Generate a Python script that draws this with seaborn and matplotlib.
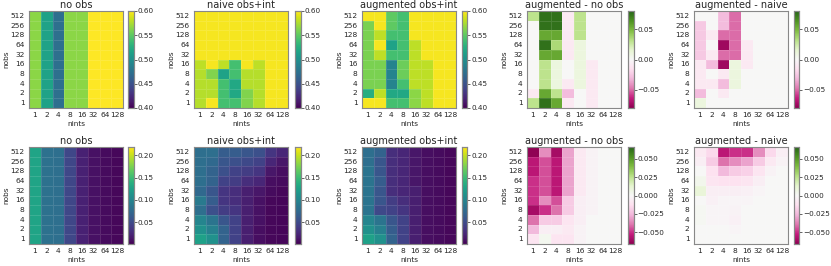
import numpy as np
import pandas as pd
import matplotlib
matplotlib.use("Agg")
import matplotlib.pyplot as plt
import seaborn as sns

sns.set_style("white")
plt.rcParams['font.family'] = ['DejaVu Sans']

# ==================================================
# DATOS
# ==================================================
nobs = [512, 256, 128, 64, 32, 16, 8, 4, 2, 1]
nints = [1, 2, 4, 8, 16, 32, 64, 128]

# fila superior
top_no_obs = [[0.565, 0.515, 0.472, 0.565, 0.565, 0.60, 0.60, 0.60]] * 10

top_naive = [
    [0.597, 0.597, 0.597, 0.597, 0.597, 0.597, 0.597, 0.597],
    [0.597, 0.597, 0.597, 0.597, 0.597, 0.597, 0.597, 0.597],
    [0.597, 0.597, 0.597, 0.597, 0.597, 0.597, 0.597, 0.597],
    [0.597, 0.597, 0.597, 0.597, 0.597, 0.597, 0.597, 0.597],
    [0.597, 0.597, 0.597, 0.597, 0.597, 0.597, 0.597, 0.597],
    [0.58, 0.597, 0.58, 0.54, 0.597, 0.58, 0.597, 0.597],
    [0.578, 0.562, 0.515, 0.54, 0.578, 0.578, 0.597, 0.597],
    [0.578, 0.578, 0.54, 0.52, 0.578, 0.578, 0.597, 0.597],
    [0.578, 0.578, 0.54, 0.52, 0.562, 0.578, 0.597, 0.597],
    [0.578, 0.597, 0.54, 0.54, 0.562, 0.578, 0.597, 0.597],
]

top_aug = [
    [0.597, 0.597, 0.55, 0.54, 0.597, 0.597, 0.597, 0.597],
    [0.56, 0.597, 0.55, 0.54, 0.597, 0.597, 0.597, 0.597],
    [0.56, 0.58, 0.54, 0.54, 0.597, 0.597, 0.597, 0.597],
    [0.56, 0.597, 0.515, 0.54, 0.58, 0.597, 0.597, 0.597],
    [0.56, 0.58, 0.54, 0.54, 0.58, 0.597, 0.597, 0.597],
    [0.56, 0.56, 0.49, 0.555, 0.58, 0.58, 0.597, 0.597],
    [0.56, 0.56, 0.49, 0.555, 0.58, 0.58, 0.597, 0.597],
    [0.56, 0.56, 0.49, 0.54, 0.58, 0.58, 0.597, 0.597],
    [0.525, 0.58, 0.52, 0.52, 0.565, 0.58, 0.597, 0.597],
    [0.597, 0.597, 0.54, 0.54, 0.565, 0.58, 0.597, 0.597],
]

top_aug_minus_noobs = [
    [0.03, 0.075, 0.075, -0.01, 0.03, 0.0, 0.0, 0.0],
    [0.0, 0.075, 0.075, -0.01, 0.03, 0.0, 0.0, 0.0],
    [0.0, 0.055, 0.055, -0.01, 0.03, 0.0, 0.0, 0.0],
    [0.0, 0.075, 0.035, -0.01, 0.01, 0.0, 0.0, 0.0],
    [0.0, 0.055, 0.055, -0.01, 0.01, 0.0, 0.0, 0.0],
    [0.0, 0.03, 0.01, 0.0, 0.01, -0.01, 0.0, 0.0],
    [0.0, 0.03, 0.01, 0.0, 0.01, -0.01, 0.0, 0.0],
    [0.0, 0.03, 0.01, -0.01, 0.01, -0.01, 0.0, 0.0],
    [-0.01, 0.055, 0.03, -0.03, 0.0, -0.01, 0.0, 0.0],
    [0.03, 0.075, 0.055, -0.01, 0.0, -0.01, 0.0, 0.0],
]

top_aug_minus_naive = [
    [0.0, 0.0, -0.03, -0.05, 0.0, 0.0, 0.0, 0.0],
    [-0.025, 0.0, -0.03, -0.05, 0.0, 0.0, 0.0, 0.0],
    [-0.025, -0.01, -0.05, -0.05, 0.0, 0.0, 0.0, 0.0],
    [-0.025, 0.0, -0.075, -0.05, -0.01, 0.0, 0.0, 0.0],
    [-0.025, -0.01, -0.05, -0.05, -0.01, 0.0, 0.0, 0.0],
    [-0.01, -0.03, -0.075, 0.01, -0.01, 0.0, 0.0, 0.0],
    [-0.01, 0.0, -0.01, 0.01, 0.0, 0.0, 0.0, 0.0],
    [-0.01, -0.01, -0.03, 0.01, 0.0, 0.0, 0.0, 0.0],
    [-0.03, 0.0, -0.01, 0.0, 0.0, 0.0, 0.0, 0.0],
    [0.01, 0.0, 0.0, 0.0, 0.0, 0.0, 0.0, 0.0],
]

# fila inferior
bot_no_obs = [[0.128, 0.082, 0.08, 0.048, 0.022, 0.012, 0.008, 0.006]] * 10

bot_naive = [
    [0.08, 0.08, 0.065, 0.065, 0.06, 0.055, 0.035, 0.025],
    [0.08, 0.075, 0.06, 0.055, 0.05, 0.045, 0.025, 0.015],
    [0.08, 0.07, 0.055, 0.045, 0.04, 0.035, 0.015, 0.01],
    [0.08, 0.07, 0.045, 0.04, 0.03, 0.025, 0.01, 0.008],
    [0.075, 0.06, 0.035, 0.03, 0.02, 0.015, 0.008, 0.006],
    [0.09, 0.065, 0.035, 0.03, 0.02, 0.012, 0.006, 0.005],
    [0.08, 0.055, 0.04, 0.035, 0.02, 0.012, 0.006, 0.005],
    [0.10, 0.085, 0.06, 0.045, 0.02, 0.012, 0.006, 0.005],
    [0.11, 0.095, 0.07, 0.045, 0.02, 0.01, 0.006, 0.005],
    [0.125, 0.11, 0.07, 0.045, 0.02, 0.01, 0.006, 0.005],
]

bot_aug = [
    [0.08, 0.07, 0.03, 0.025, 0.015, 0.01, 0.008, 0.006],
    [0.08, 0.06, 0.03, 0.025, 0.015, 0.01, 0.008, 0.006],
    [0.085, 0.06, 0.03, 0.025, 0.015, 0.01, 0.008, 0.006],
    [0.085, 0.065, 0.03, 0.025, 0.015, 0.01, 0.008, 0.006],
    [0.085, 0.06, 0.03, 0.025, 0.02, 0.01, 0.008, 0.006],
    [0.085, 0.06, 0.04, 0.03, 0.02, 0.01, 0.008, 0.006],
    [0.085, 0.05, 0.045, 0.035, 0.02, 0.01, 0.008, 0.006],
    [0.10, 0.085, 0.06, 0.045, 0.02, 0.01, 0.008, 0.006],
    [0.11, 0.095, 0.065, 0.045, 0.02, 0.01, 0.008, 0.006],
    [0.125, 0.11, 0.07, 0.045, 0.02, 0.01, 0.008, 0.006],
]

bot_aug_minus_noobs = [
    [-0.065, -0.035, -0.06, -0.03, -0.008, -0.003, 0.0, 0.0],
    [-0.055, -0.045, -0.055, -0.03, -0.008, -0.003, 0.0, 0.0],
    [-0.055, -0.045, -0.055, -0.03, -0.008, -0.003, 0.0, 0.0],
    [-0.05, -0.045, -0.055, -0.03, -0.008, -0.003, 0.0, 0.0],
    [-0.05, -0.045, -0.055, -0.03, -0.008, -0.003, 0.0, 0.0],
    [-0.05, -0.035, -0.045, -0.02, -0.005, -0.003, 0.0, 0.0],
    [-0.06, -0.05, -0.04, -0.02, -0.005, -0.003, 0.0, 0.0],
    [-0.04, -0.02, -0.02, -0.01, -0.005, 0.0, 0.0, 0.0],
    [-0.025, -0.005, -0.005, -0.008, -0.003, 0.0, 0.0, 0.0],
    [-0.01, 0.003, -0.01, -0.01, -0.003, 0.0, 0.0, 0.0],
]

bot_aug_minus_naive = [
    [-0.008, -0.015, -0.055, -0.05, -0.05, -0.035, -0.015, -0.005],
    [-0.005, -0.02, -0.04, -0.035, -0.03, -0.02, -0.008, -0.003],
    [0.0, -0.012, -0.025, -0.02, -0.018, -0.01, -0.003, 0.0],
    [0.004, -0.01, -0.012, -0.012, -0.01, -0.005, 0.0, 0.0],
    [0.01, -0.005, -0.005, -0.005, -0.004, -0.002, 0.0, 0.0],
    [0.0, -0.004, -0.002, -0.002, -0.002, 0.0, 0.0, 0.0],
    [0.002, -0.002, -0.002, -0.003, 0.0, 0.0, 0.0, 0.0],
    [0.002, -0.002, -0.002, -0.004, 0.0, 0.0, 0.0, 0.0],
    [0.0, 0.0, 0.0, -0.002, 0.0, 0.0, 0.0, 0.0],
    [0.0, 0.0, 0.0, 0.0, 0.0, 0.0, 0.0, 0.0],
]

titles = ["no obs", "naive obs+int", "augmented obs+int",
          "augmented - no obs", "augmented - naive"]

rows = [
    [top_no_obs, top_naive, top_aug, top_aug_minus_noobs, top_aug_minus_naive],
    [bot_no_obs, bot_naive, bot_aug, bot_aug_minus_noobs, bot_aug_minus_naive],
]
# límites de color por fila: (viridis), (diferencias), paso de ticks
limits = [((0.40, 0.60), 0.08, 0.05, 0.05), ((0.002, 0.218), 0.066, 0.05, 0.025)]

# ==================================================
# FIGURA
# ==================================================
W, H = 831, 266
fig = plt.figure(figsize=(W / 100, H / 100), dpi=100)

lefts = [29, 194, 362, 527, 694]
cb_lefts = [128, 295, 462, 628, 794]
tops = [11, 147]
hm_w, hm_h = 94, 97
cb_w = 5.5


def px_rect(x, y, w, h):
    return [x / W, 1 - (y + h) / H, w / W, h / H]


for r, panels in enumerate(rows):
    (vmin, vmax), dlim, vstep, dstep = limits[r]
    for c, data in enumerate(panels):
        ax = fig.add_axes(px_rect(lefts[c], tops[r], hm_w, hm_h))
        cax = fig.add_axes(px_rect(cb_lefts[c], tops[r], cb_w, hm_h))
        df = pd.DataFrame(data, index=nobs, columns=nints)
        if c < 3:
            kw = dict(cmap="viridis", vmin=vmin, vmax=vmax)
            step = vstep
        else:
            kw = dict(cmap="PiYG", vmin=-dlim, vmax=dlim)
            step = dstep
        sns.heatmap(df, ax=ax, cbar_ax=cax, linewidths=0.4,
                    linecolor=(1, 1, 1, 0.12),
                    xticklabels=nints, yticklabels=nobs, **kw)
        ax.set_title(titles[c], fontsize=7, pad=2)
        ax.set_xlabel("nints", fontsize=5.3, labelpad=1.5)
        ax.set_ylabel("nobs", fontsize=5.3, labelpad=0.5)
        ax.tick_params(axis="both", labelsize=5.4, length=2.2, width=0.5, pad=1)
        ax.tick_params(axis="y", labelrotation=0)
        ax.tick_params(axis="x", labelrotation=0)
        for sp in ax.spines.values():
            sp.set_visible(True)
            sp.set_color("#888888")
            sp.set_linewidth(0.8)
        cax.yaxis.set_major_locator(plt.MultipleLocator(step))
        cax.tick_params(labelsize=5.2, length=2, width=0.5, pad=1)
        for sp in cax.spines.values():
            sp.set_visible(True)
            sp.set_color("#888888")
            sp.set_linewidth(0.8)

fig.savefig("out.png", dpi=100)
